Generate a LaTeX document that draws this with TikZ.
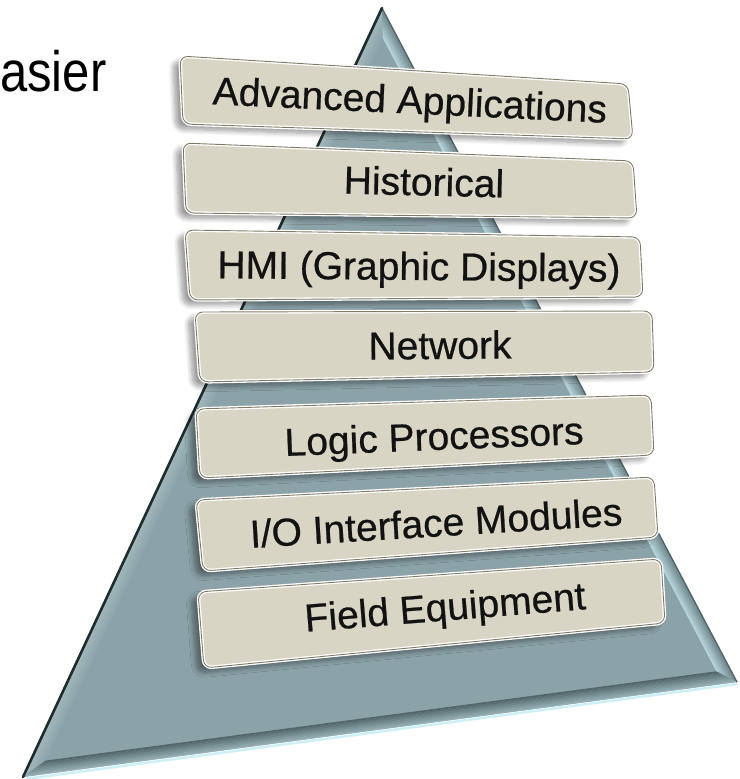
\documentclass[tikz,border=0pt]{standalone}
\usepackage{fontspec}
\setmainfont{Liberation Sans}
\newfontfamily\layerfont[FakeBold=0.6]{Liberation Sans}
\usetikzlibrary{calc,shadows.blur}

\definecolor{pyrface}{HTML}{8BA2A9}
\definecolor{leftout}{HTML}{A2B8BD}
\definecolor{leftin}{HTML}{8FA7AD}
\definecolor{rightout}{HTML}{6F868B}
\definecolor{rightin}{HTML}{B6D3DA}
\definecolor{botin}{HTML}{52666A}
\definecolor{botout}{HTML}{94AEB4}
\definecolor{edgedark}{HTML}{1F2C2C}
\definecolor{edgeright}{HTML}{4E6265}
\definecolor{edgeglow}{HTML}{CDEFF6}
\definecolor{layerfill}{HTML}{D9D5C4}
\definecolor{layeredge}{HTML}{7E7A68}
\definecolor{textcol}{HTML}{121212}

\tikzset{
  layerbody/.style={rounded corners=8pt, fill=layerfill, draw=white, line width=3.5pt,
    blur shadow={shadow xshift=-7pt, shadow yshift=-5pt, shadow opacity=40,
      shadow blur steps=8, shadow blur radius=5pt}},
  layerrim/.style={rounded corners=8pt, draw=layeredge, line width=0.9pt},
  layertext/.style={font=\layerfont\fontsize{39}{44}\selectfont, text=textcol,
    inner sep=0pt, text height=28pt, text depth=0pt},
}

% one layer of the pyramid: name, four corners (TL, TR, BR, BL), text centre, angle, label
\newcommand{\pyrlayer}[8]{%
  \path[layerbody] #2 -- #3 -- #4 -- #5 -- cycle;
  \draw[layerrim] #2 -- #3 -- #4 -- #5 -- cycle;
  \node[layertext, rotate=#7] (#1) at #6 {#8};
}

\begin{document}
\begin{tikzpicture}[x=1pt,y=-1pt]
\useasboundingbox (0,0) rectangle (739,779);
\clip (0,0) rectangle (739,779);

% heading fragment
\node[font=\fontsize{57}{64}\selectfont, text=black, inner sep=0pt, anchor=base west,
  xscale=0.86] (heading) at (0,91) {asier};

% pyramid outline and bevel
\coordinate (A) at (382,8);
\coordinate (B) at (23,777);
\coordinate (C) at (737,682);
\coordinate (I) at (394,505);
\coordinate (Ai) at ($(I)!0.94!(A)$);
\coordinate (Bi) at ($(I)!0.94!(B)$);
\coordinate (Ci) at ($(I)!0.94!(C)$);

\fill[pyrface] (A) -- (B) -- (C) -- cycle;

\foreach \k in {0,...,7}{
  \pgfmathsetmacro\ta{\k/8}
  \pgfmathsetmacro\tb{(\k+1)/8+0.005}
  \pgfmathsetmacro\mix{100*\k/7}
  \fill[leftin!\mix!leftout] ($(A)!\ta!(Ai)$) -- ($(B)!\ta!(Bi)$) -- ($(B)!\tb!(Bi)$) -- ($(A)!\tb!(Ai)$) -- cycle;
  \fill[rightin!\mix!rightout] ($(A)!\ta!(Ai)$) -- ($(C)!\ta!(Ci)$) -- ($(C)!\tb!(Ci)$) -- ($(A)!\tb!(Ai)$) -- cycle;
  \fill[botin!\mix!botout] ($(B)!\ta!(Bi)$) -- ($(C)!\ta!(Ci)$) -- ($(C)!\tb!(Ci)$) -- ($(B)!\tb!(Bi)$) -- cycle;
}
\draw[edgeglow, line width=2.5pt] ($(B)+(2,2)$) -- ($(C)+(0,2)$);
\draw[edgeright, line width=1.2pt, line cap=round] (A) -- (C);
\draw[edgedark, line width=2.6pt, line cap=round] (A) -- (B);

% the seven layers
\pyrlayer{adv}{(180,56)}{(628,84)}{(633,139)}{(183,124)}{(410,99.5)}{-2.7}{Advanced Applications}
\pyrlayer{hist}{(183,143)}{(633,161)}{(637,218)}{(186,213)}{(424,181.5)}{-1.4}{Historical}
\pyrlayer{hmi}{(185,230)}{(640,237)}{(643,297)}{(190,300)}{(419,266)}{-0.5}{HMI (Graphic Displays)}
\pyrlayer{net}{(195,312)}{(652,311)}{(654,372)}{(200,382)}{(440,345)}{0.5}{Network}
\pyrlayer{logic}{(196,409)}{(651,395)}{(654,455)}{(200,478)}{(434,436)}{2.3}{Logic Processors}
\pyrlayer{io}{(196,500)}{(654,477)}{(658,537)}{(203,571)}{(436,522.5)}{3.5}{I/O Interface Modules}
\pyrlayer{field}{(198,592)}{(661,559)}{(665,623)}{(204,668)}{(445,606.5)}{4.6}{Field Equipment}

\end{tikzpicture}
\end{document}
